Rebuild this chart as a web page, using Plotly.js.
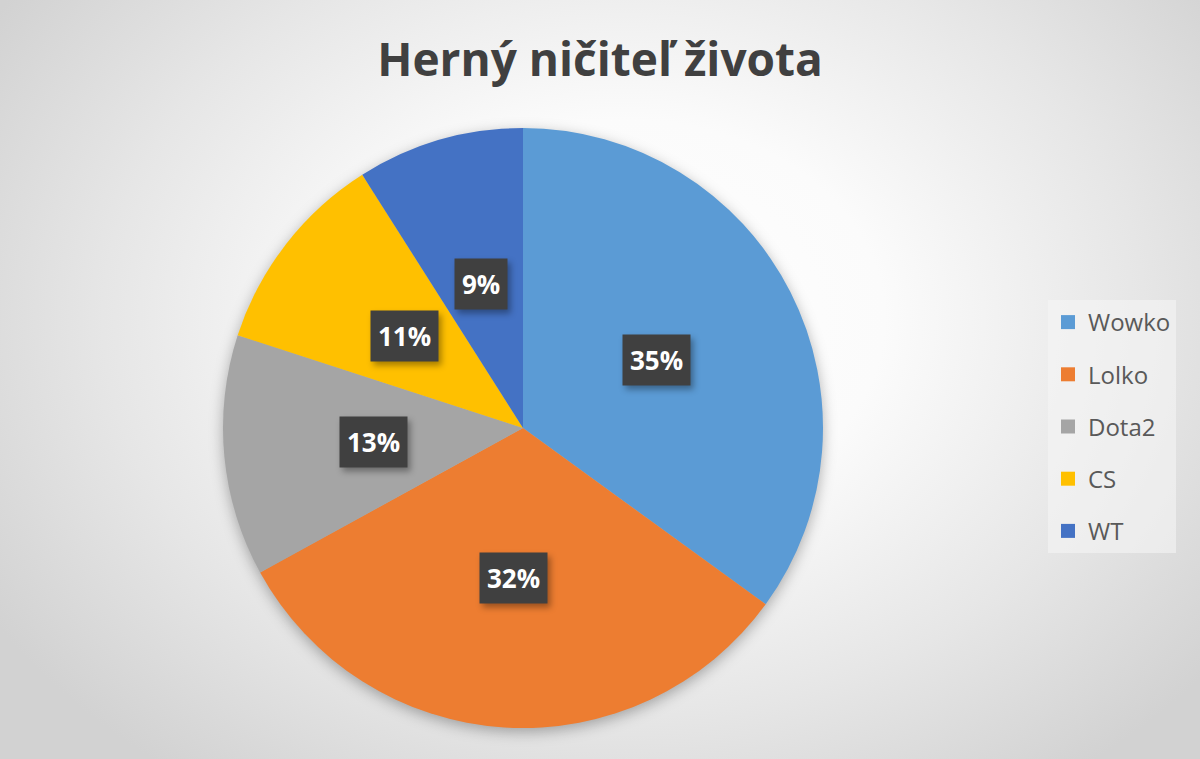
<!DOCTYPE html>
<html><head><meta charset="utf-8">
<script src="https://cdn.plot.ly/plotly-3.0.1.min.js"></script>
<style>
html,body{margin:0;padding:0;background:#fff;}
#chart{width:1200px;height:759px;background:radial-gradient(ellipse 62% 75% at 52% 42%, #ffffff 0%, #fbfbfb 35%, #e6e6e6 70%, #d2d2d2 100%);}
#chart .pielayer .trace{filter:drop-shadow(0px 4px 7px rgba(0,0,0,0.30));}
#chart .annotation rect.bg{filter:drop-shadow(3px 4px 3px rgba(0,0,0,0.35));}
</style></head><body><div id="chart"></div>
<script>
const categories = ['Wowko', 'Lolko', 'Dota2', 'CS', 'WT'];
const values = [35, 32, 13, 11, 9];
const colors = ['#5B9BD5', '#ED7D31', '#A5A5A5', '#FFC000', '#4472C4'];
const titleText = 'Herný ničiteľ života';

const FONT = '"Open Sans", "Noto Sans", sans-serif';
const W = 1200, H = 759;
const cx = 523, cy = 428, R = 300;
const domain = {x: [(cx - R) / W, (cx + R) / W], y: [(H - cy - R) / H, (H - cy + R) / H]};

const pie = {
  type: 'pie', labels: categories, values: values,
  marker: {colors: colors, line: {width: 0}},
  sort: false, direction: 'clockwise', rotation: 0,
  textinfo: 'none', hoverinfo: 'label+percent', showlegend: false,
  domain: domain
};

const legendTraces = categories.map((c, i) => ({
  type: 'scatter', mode: 'markers', x: [null], y: [null], name: c,
  legendgroup: 'g' + i,
  marker: {symbol: 'square', size: 14, color: colors[i]},
  hoverinfo: 'skip'
}));

const total = values.reduce((a, b) => a + b, 0);
const annotations = [];
let cum = 0;
values.forEach((v, i) => {
  const mid = (cum + v / 2) / total * 2 * Math.PI;
  cum += v;
  const x = (cx + 0.5 * R * Math.sin(mid)) / W;
  const y = (H - cy + 0.5 * R * Math.cos(mid)) / H;
  const txt = Math.round(v / total * 100) + '%';
  annotations.push({
    xref: 'paper', yref: 'paper', x: x, y: y, xanchor: 'center', yanchor: 'middle',
    text: '<b>' + txt + '</b>', showarrow: false,
    font: {family: FONT, size: 26, color: '#ffffff'},
    bgcolor: '#404040', borderpad: 7
  });
});

const layout = {
  width: W, height: H,
  margin: {l: 0, r: 0, t: 0, b: 0},
  paper_bgcolor: 'rgba(0,0,0,0)', plot_bgcolor: 'rgba(0,0,0,0)',
  title: {text: '<b>' + titleText + '</b>', x: 0.5, xanchor: 'center', y: 1 - 60 / H, yanchor: 'middle',
          font: {family: FONT, size: 46, color: '#404040'}},
  xaxis: {visible: false}, yaxis: {visible: false},
  showlegend: true,
  legend: {x: 1048 / W, y: 1 - 300 / H, xanchor: 'left', yanchor: 'top',
           bgcolor: 'rgba(245,245,245,0.6)', font: {family: FONT, size: 24, color: '#595959'},
           tracegroupgap: 18, itemclick: false, itemdoubleclick: false},
  annotations: annotations
};

Plotly.newPlot('chart', [pie].concat(legendTraces), layout, {displayModeBar: false, staticPlot: true});
</script></body></html>
